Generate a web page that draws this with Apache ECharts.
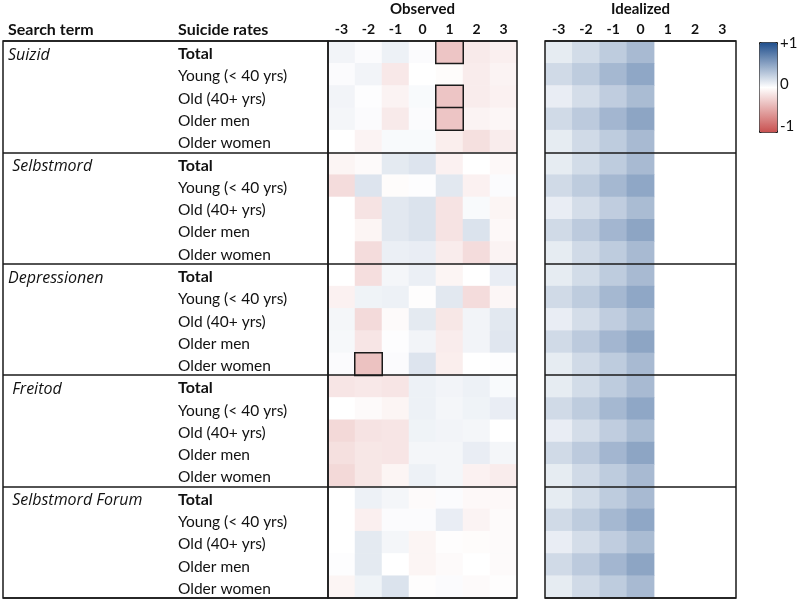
<!DOCTYPE html>
<html>
<head>
<meta charset="utf-8">
<script src="https://cdn.jsdelivr.net/npm/echarts@6/dist/echarts.min.js"></script>
<style>html,body{margin:0;padding:0;background:#fff;}#c{width:800px;height:602px;}</style>
</head>
<body>
<div id="c"></div>
<script>
const searchTerms = ['Suizid', ' Selbstmord', 'Depressionen', ' Freitod', ' Selbstmord Forum'];
const rates = ['Total', 'Young (< 40 yrs)', 'Old (40+ yrs)', 'Older men', 'Older women'];
const lags = ['-3', '-2', '-1', '0', '1', '2', '3'];
const idealLags = ['-3', '-2', '-1', '0'];
const colorbarLabels = ['+1', '0', '-1'];

const obsSuizid = [
  [0.06, 0.02, 0.08, 0.02, -0.33, -0.12, -0.09],
  [0.02, 0.06, -0.13, 0.00, -0.02, -0.11, -0.07],
  [0.06, 0.01, -0.07, 0.03, -0.33, -0.11, -0.08],
  [0.05, 0.02, -0.12, 0.02, -0.33, -0.07, -0.05],
  [0.00, -0.07, 0.03, 0.03, -0.10, -0.18, -0.11]
];
const obsSelbstmord = [
  [-0.06, -0.03, 0.12, 0.15, -0.08, 0.00, -0.04],
  [-0.20, 0.15, -0.02, 0.01, 0.13, -0.08, 0.02],
  [0.00, -0.16, 0.13, 0.16, -0.16, 0.03, -0.06],
  [0.00, -0.06, 0.13, 0.16, -0.16, 0.16, -0.04],
  [0.00, -0.20, 0.09, 0.10, -0.11, -0.20, -0.07]
];
const obsDepressionen = [
  [0.00, -0.19, 0.05, 0.09, -0.06, 0.00, 0.10],
  [-0.08, 0.07, 0.08, -0.01, 0.13, -0.20, -0.05],
  [0.05, -0.21, -0.03, 0.12, -0.14, 0.06, 0.13],
  [0.04, -0.15, 0.01, 0.06, -0.11, 0.06, 0.14],
  [0.02, -0.35, 0.02, 0.15, -0.10, 0.00, 0.01]
];
const obsFreitod = [
  [-0.15, -0.13, -0.15, 0.08, 0.06, 0.08, 0.03],
  [0.00, -0.03, -0.06, 0.08, 0.05, 0.07, 0.10],
  [-0.22, -0.16, -0.15, 0.07, 0.06, 0.05, 0.00],
  [-0.18, -0.14, -0.15, 0.05, 0.05, 0.10, 0.05],
  [-0.22, -0.14, -0.06, 0.08, 0.05, -0.08, -0.11]
];
const obsForum = [
  [0.00, 0.08, 0.05, -0.03, 0.02, -0.04, -0.04],
  [0.00, -0.09, 0.02, 0.02, 0.10, -0.07, -0.03],
  [0.00, 0.12, 0.05, -0.06, -0.01, -0.02, -0.03],
  [0.01, 0.12, 0.00, -0.06, -0.03, 0.00, -0.03],
  [-0.06, 0.07, 0.16, -0.01, 0.02, -0.03, -0.01]
];
// idealized pattern per suicide-rate row (same for each search term)
const idealized = [
  [0.11, 0.20, 0.29, 0.39],
  [0.21, 0.29, 0.40, 0.50],
  [0.10, 0.19, 0.28, 0.38],
  [0.21, 0.30, 0.41, 0.51],
  [0.11, 0.21, 0.29, 0.39]
];
// significant cells: [search term index, rate index, lag index]
const sigCells = [[0, 0, 4], [0, 2, 4], [0, 3, 4], [2, 4, 1]];

const observedGroups = [obsSuizid, obsSelbstmord, obsDepressionen, obsFreitod, obsForum];

const FONT = 'Lato';
const IFONT = 'Open Sans';
const LINE = '#1a1a1a';

const rowKeys = [];
searchTerms.forEach((t, ti) => rates.forEach((r, ri) => rowKeys.push(ti + '|' + ri)));

const obsData = [];
const sigData = [];
observedGroups.forEach((g, ti) => g.forEach((row, ri) => row.forEach((v, li) => {
  const isSig = sigCells.some(s => s[0] === ti && s[1] === ri && s[2] === li);
  if (isSig) sigData.push({ value: [li, ti * 5 + ri, v], itemStyle: { borderColor: LINE, borderWidth: 1.5 } });
  else obsData.push({ value: [li, ti * 5 + ri, v] });
})));
const obsAll = obsData.concat(sigData);
const idealData = [];
searchTerms.forEach((t, ti) => idealized.forEach((row, ri) => row.forEach((v, li) => {
  idealData.push([li, ti * 5 + ri, v]);
})));

const GT = 41, GH = 557;
const groupSplit = { show: true, interval: (i) => i % 5 === 0, lineStyle: { color: LINE, width: 1.5 } };
const xLab = { margin: 5, fontFamily: FONT, fontWeight: 'bold', fontSize: 14, color: '#111' };
const xName = { fontFamily: FONT, fontWeight: 'bold', fontSize: 15, color: '#111' };
const gridBase = { top: GT, height: GH, show: true, z: 5, borderColor: LINE, borderWidth: 1.5,
  backgroundColor: 'transparent', containLabel: false, outerBoundsMode: 'none' };

const chart = echarts.init(document.getElementById('c'), null, { renderer: 'canvas' });
chart.setOption({
  animation: false,
  textStyle: { fontFamily: FONT },
  grid: [
    Object.assign({ left: 3, width: 325 }, gridBase),
    Object.assign({ left: 328, width: 189 }, gridBase),
    Object.assign({ left: 545, width: 191 }, gridBase)
  ],
  xAxis: [
    { gridIndex: 0, type: 'value', min: 0, max: 1, show: false },
    { gridIndex: 1, type: 'category', data: lags, position: 'top',
      name: 'Observed', nameLocation: 'middle', nameGap: 24, nameTextStyle: xName, nameMoveOverlap: false,
      axisLine: { show: false }, axisTick: { show: false }, splitLine: { show: false }, axisLabel: xLab },
    { gridIndex: 2, type: 'category', data: lags, position: 'top',
      name: 'Idealized', nameLocation: 'middle', nameGap: 24, nameTextStyle: xName, nameMoveOverlap: false,
      axisLine: { show: false }, axisTick: { show: false }, splitLine: { show: false }, axisLabel: xLab }
  ],
  yAxis: [
    { gridIndex: 0, type: 'category', data: rowKeys, inverse: true, position: 'left', z: 6,
      axisLine: { show: false }, axisTick: { show: false }, splitLine: groupSplit,
      axisLabel: { inside: true, margin: 175, align: 'left', interval: 0,
        fontFamily: FONT, fontSize: 15.5, color: '#111',
        formatter: (v) => { const r = rates[+v.split('|')[1]]; return r === 'Total' ? '{b|' + r + '}' : '{n|' + r + '}'; },
        rich: { b: { fontFamily: FONT, fontSize: 16, fontWeight: 'bold', color: '#111', padding: [4, 0, 0, 0] },
                n: { fontFamily: FONT, fontSize: 15.5, color: '#111', padding: [4, 0, 0, 0] } } } },
    { gridIndex: 0, type: 'category', data: rowKeys, inverse: true, position: 'left', z: 6,
      axisLine: { show: false }, axisTick: { show: false }, splitLine: { show: false },
      axisLabel: { inside: true, margin: 5, align: 'left', interval: 0,
        fontFamily: IFONT, fontSize: 16, fontStyle: 'italic', color: '#111',
        formatter: (v) => { const p = v.split('|'); return p[1] === '0' ? '{t|' + searchTerms[+p[0]] + '}' : ''; },
        rich: { t: { fontFamily: IFONT, fontSize: 16, fontStyle: 'italic', color: '#111', padding: [6, 0, 0, 0] } } } },
    { gridIndex: 1, type: 'category', data: rowKeys, inverse: true, z: 6,
      axisLine: { show: false }, axisTick: { show: false }, axisLabel: { show: false }, splitLine: groupSplit },
    { gridIndex: 2, type: 'category', data: rowKeys, inverse: true, z: 6,
      axisLine: { show: false }, axisTick: { show: false }, axisLabel: { show: false }, splitLine: groupSplit }
  ],
  visualMap: {
    type: 'continuous', min: -1, max: 1, orient: 'vertical',
    left: 759, top: 42, itemWidth: 18, itemHeight: 90, padding: 0,
    borderColor: LINE, borderWidth: 1, calculable: false, hoverLink: false,
    inRange: { color: ['#c8504f', '#ffffff', '#1f4e8c'] }
  },
  graphic: [
    { type: 'text', left: 8, top: 22, style: { text: 'Search term', font: 'bold 16px ' + FONT, fill: '#111' } },
    { type: 'text', left: 178, top: 22, style: { text: 'Suicide rates', font: 'bold 16px ' + FONT, fill: '#111' } },
    { type: 'text', left: 780, top: 36, style: { text: colorbarLabels[0], font: '15px ' + FONT, fill: '#111' } },
    { type: 'text', left: 780, top: 77, style: { text: colorbarLabels[1], font: '15px ' + FONT, fill: '#111' } },
    { type: 'text', left: 780, top: 119, style: { text: colorbarLabels[2], font: '15px ' + FONT, fill: '#111' } }
  ],
  series: [
    { type: 'heatmap', xAxisIndex: 1, yAxisIndex: 2, data: obsAll, progressive: 0, z: 2 },
    { type: 'heatmap', xAxisIndex: 2, yAxisIndex: 3, data: idealData, progressive: 0, z: 2 }
  ]
});
</script>
</body>
</html>
